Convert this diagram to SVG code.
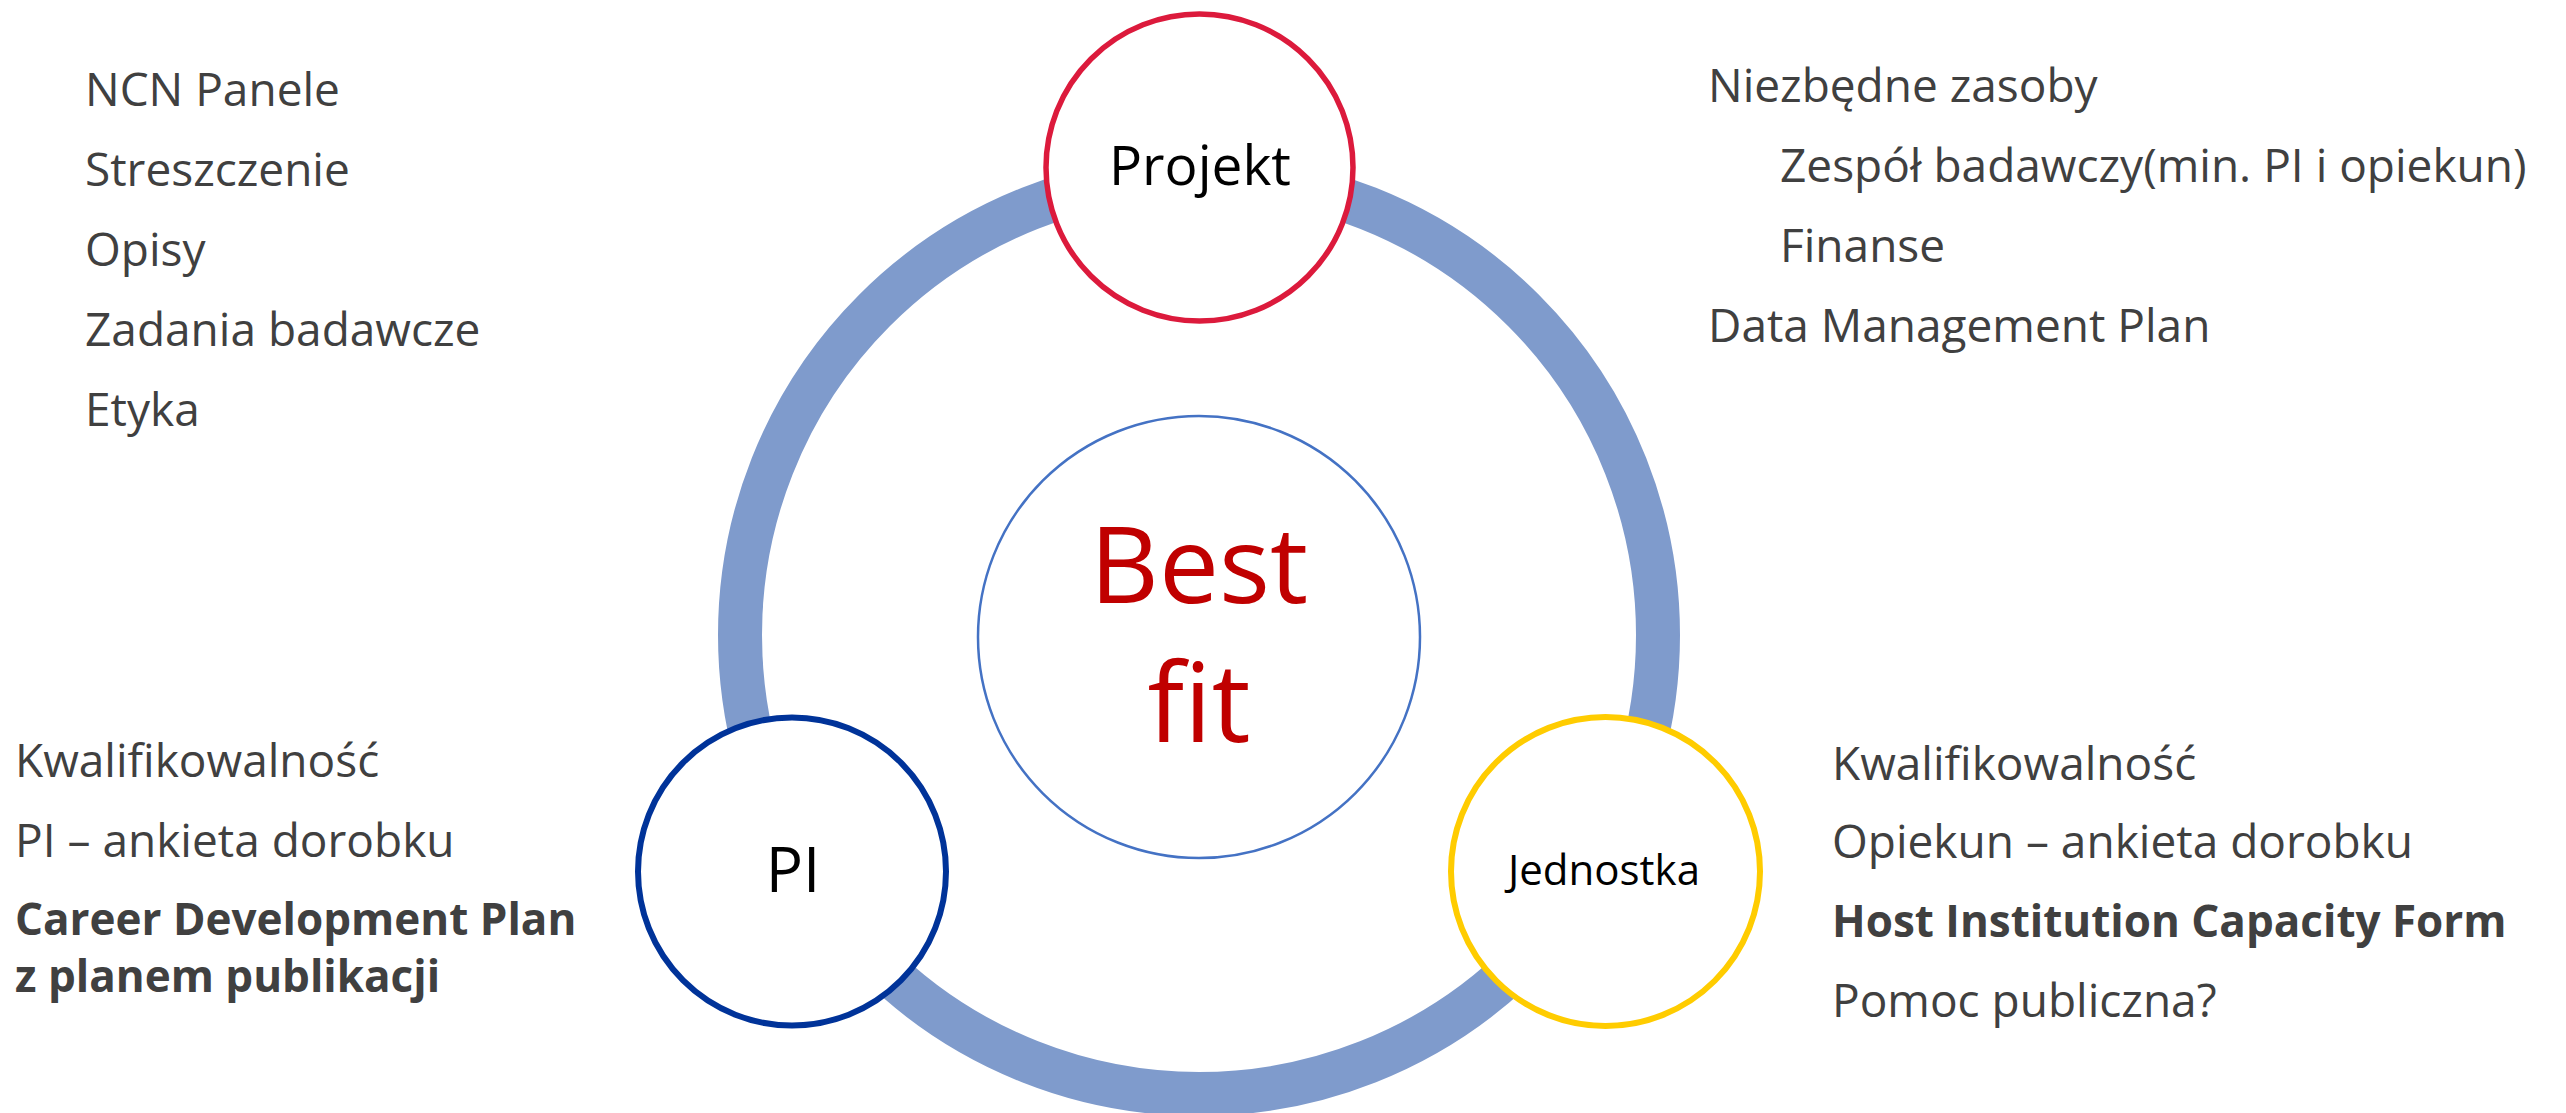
<svg xmlns="http://www.w3.org/2000/svg" width="2566" height="1113" viewBox="0 0 2566 1113">
  <style>
    .ring { fill: none; stroke: #7F9BCC; stroke-width: 44; }
    .node { fill: #FFFFFF; }
    .lbl { font-family: "Open Sans", "Noto Sans", sans-serif; fill: #000000; text-anchor: middle; }
    .txt { font-family: "Open Sans", "Noto Sans", sans-serif; font-size: 46px; fill: #404040; }
    .b { font-weight: bold; font-size: 44px; }
  </style>
  <rect x="0" y="0" width="2566" height="1113" fill="#FFFFFF"/>

  <g id="connectors">
    <circle class="ring" cx="1199" cy="635" r="459"/>
  </g>

  <g id="node-bestfit">
    <circle class="node" cx="1199" cy="637" r="221" stroke="#4472C4" stroke-width="2.5"/>
    <text class="lbl" x="1199" y="603" font-size="107" style="fill:#C00000">Best</text>
    <text class="lbl" x="1199" y="742" font-size="109" style="fill:#C00000">fit</text>
  </g>

  <g id="node-projekt">
    <circle class="node" cx="1199.5" cy="167.5" r="153.5" stroke="#DC1A3C" stroke-width="5.5"/>
    <text class="lbl" x="1200" y="185" font-size="55">Projekt</text>
  </g>

  <g id="node-pi">
    <circle class="node" cx="792" cy="871.5" r="154" stroke="#003399" stroke-width="6"/>
    <text class="lbl" x="793" y="892" font-size="62">PI</text>
  </g>

  <g id="node-jednostka">
    <circle class="node" cx="1605.5" cy="871.5" r="154.5" stroke="#FFCC00" stroke-width="6"/>
    <text class="lbl" x="1604" y="885" font-size="42">Jednostka</text>
  </g>

  <g id="list-projekt-left">
    <text class="txt" x="85" y="106">NCN Panele</text>
    <text class="txt" x="85" y="186">Streszczenie</text>
    <text class="txt" x="85" y="266">Opisy</text>
    <text class="txt" x="85" y="346">Zadania badawcze</text>
    <text class="txt" x="85" y="426">Etyka</text>
  </g>

  <g id="list-projekt-right">
    <text class="txt" x="1708" y="102">Niezbędne zasoby</text>
    <text class="txt" x="1780" y="182">Zespół badawczy(min. PI i opiekun)</text>
    <text class="txt" x="1780" y="262">Finanse</text>
    <text class="txt" x="1708" y="342">Data Management Plan</text>
  </g>

  <g id="list-pi">
    <text class="txt" x="15" y="777">Kwalifikowalność</text>
    <text class="txt" x="15" y="857">PI – ankieta dorobku</text>
    <text class="txt b" x="15" y="935">Career Development Plan</text>
    <text class="txt b" x="15" y="992">z planem publikacji</text>
  </g>

  <g id="list-jednostka">
    <text class="txt" x="1832" y="780">Kwalifikowalność</text>
    <text class="txt" x="1832" y="858">Opiekun – ankieta dorobku</text>
    <text class="txt b" x="1832" y="937">Host Institution Capacity Form</text>
    <text class="txt" x="1832" y="1017">Pomoc publiczna?</text>
  </g>
</svg>
